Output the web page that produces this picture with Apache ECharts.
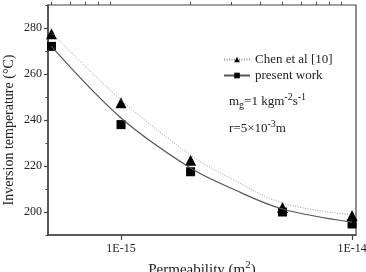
<!DOCTYPE html>
<html>
<head>
<meta charset="utf-8">
<script src="https://cdn.jsdelivr.net/npm/echarts@6/dist/echarts.min.js"></script>
<style>
  html, body { margin: 0; padding: 0; background: #fff; }
  #root { width: 366px; height: 272px; }
</style>
</head>
<body>
<div id="root"></div>
<script>
// measured points
var permeability = [5e-16, 1e-15, 2e-15, 5e-15, 1e-14]
var chenTemp = [277.5, 247.5, 222.5, 202, 198.5]
var presentTemp = [272, 238, 217.5, 200, 194.8]

// fitted curves
var fitPerm = [5e-16, 1e-15, 2e-15, 3e-15, 5e-15, 1e-14]
var chenFit = [278, 248.7, 224.8, 214.5, 203.9, 198.7]
var presentFit = [272, 240.9, 219.1, 210.3, 201.3, 195.6]

var xMajor = [1e-15, 1e-14]
var xMinor = [5e-16, 6e-16, 7e-16, 8e-16, 9e-16, 2e-15, 3e-15, 4e-15, 5e-15, 6e-15, 7e-15, 8e-15, 9e-15]
var yMajor = [200, 220, 240, 260, 280]
var yMinor = [190, 210, 230, 250, 270, 290]

var serif = 'Liberation Serif, Times New Roman, serif'
var axisColor = '#444'

function pairs (xs, ys) {
  return xs.map(function (x, i) { return [x, ys[i]] })
}

var chart = echarts.init(document.getElementById('root'))

var xBase = {
  type: 'log',
  logBase: 10,
  min: 4.83e-16,
  max: 1.04e-14,
  splitLine: { show: false },
  minorTick: { show: false }
}
var yBase = {
  type: 'value',
  min: 190,
  max: 290,
  splitLine: { show: false }
}

var option = {
  animation: false,
  grid: {
    left: 48, right: 10, top: 5, bottom: 37,
    outerBoundsMode: 'none',
    show: true, borderColor: axisColor, borderWidth: 1.2
  },
  legend: {
    left: 218,
    top: 48,
    orient: 'vertical',
    itemWidth: 26,
    itemHeight: 7,
    itemGap: 3,
    textStyle: { fontFamily: serif, fontSize: 13, color: '#222' },
    data: ['Chen et al [10]', 'present work']
  },
  xAxis: [
    Object.assign({}, xBase, {
      name: 'Permeability (m{sup|2})',
      nameLocation: 'middle',
      nameGap: 25,
      nameMoveOverlap: false,
      nameTextStyle: {
        fontFamily: serif, fontSize: 15, color: '#222',
        rich: { sup: { fontFamily: serif, fontSize: 11, color: '#222', padding: [0, 0, 9, 0] } }
      },
      axisLine: { show: true, lineStyle: { color: axisColor, width: 1.5 } },
      axisTick: { show: true, length: 5, lineStyle: { color: axisColor, width: 1.2 }, customValues: xMajor },
      axisLabel: {
        customValues: xMajor,
        margin: 8,
        fontFamily: serif, fontSize: 12, color: '#222',
        formatter: function (v) { return '1E' + Math.round(Math.log10(v)) }
      }
    }),
    Object.assign({}, xBase, {
      axisLine: { show: false },
      axisTick: { show: true, length: 3, lineStyle: { color: axisColor, width: 1 }, customValues: xMinor },
      axisLabel: { show: false }
    })
  ],
  yAxis: [
    Object.assign({}, yBase, {
      name: 'Inversion temperature (°C)',
      nameLocation: 'middle',
      nameGap: 32,
      nameMoveOverlap: false,
      nameTextStyle: { fontFamily: serif, fontSize: 14, color: '#222', padding: [0, 20, 0, 0] },
      axisLine: { show: true, lineStyle: { color: axisColor, width: 1.5 } },
      axisTick: { show: true, length: 4, lineStyle: { color: axisColor, width: 1.2 }, customValues: yMajor },
      axisLabel: { customValues: yMajor, margin: 6, fontFamily: serif, fontSize: 12, color: '#222' }
    }),
    Object.assign({}, yBase, {
      position: 'left',
      axisLine: { show: false },
      axisTick: { show: true, length: 2.5, lineStyle: { color: axisColor, width: 1 }, customValues: yMinor },
      axisLabel: { show: false }
    })
  ],
  graphic: [
    {
      type: 'text',
      left: 229,
      top: 92,
      style: {
        text: 'm{sub|g}=1 kgm{sup|-2}s{sup|-1}',
        font: '13px ' + serif,
        fill: '#222',
        rich: {
          sub: { font: '10px ' + serif, fill: '#222', padding: [7, 0, 0, 0] },
          sup: { font: '10px ' + serif, fill: '#222', padding: [0, 0, 9, 0] }
        }
      }
    },
    {
      type: 'text',
      left: 229,
      top: 119,
      style: {
        text: 'r=5×10{sup|-3}m',
        font: '13px ' + serif,
        fill: '#222',
        rich: {
          sup: { font: '10px ' + serif, fill: '#222', padding: [0, 0, 9, 0] }
        }
      }
    }
  ],
  series: [
    {
      name: 'Chen et al [10]',
      type: 'line',
      smooth: 0.35,
      data: pairs(fitPerm, chenFit),
      symbol: 'triangle',
      symbolSize: 7,
      showSymbol: false,
      itemStyle: { color: '#000' },
      lineStyle: { color: '#999', width: 1, type: [1, 1.5] }
    },
    {
      name: 'present work',
      type: 'line',
      smooth: 0.35,
      data: pairs(fitPerm, presentFit),
      symbol: 'rect',
      symbolSize: 6,
      showSymbol: false,
      itemStyle: { color: '#000' },
      lineStyle: { color: '#555', width: 1.2 }
    },
    {
      name: 'chen points',
      type: 'scatter',
      symbol: 'triangle',
      symbolSize: 11,
      data: pairs(permeability, chenTemp),
      itemStyle: { color: '#000', opacity: 1 }
    },
    {
      name: 'present points',
      type: 'scatter',
      symbol: 'rect',
      symbolSize: 9,
      data: pairs(permeability, presentTemp),
      itemStyle: { color: '#000', opacity: 1 }
    }
  ]
}

chart.setOption(option)
</script>
</body>
</html>
